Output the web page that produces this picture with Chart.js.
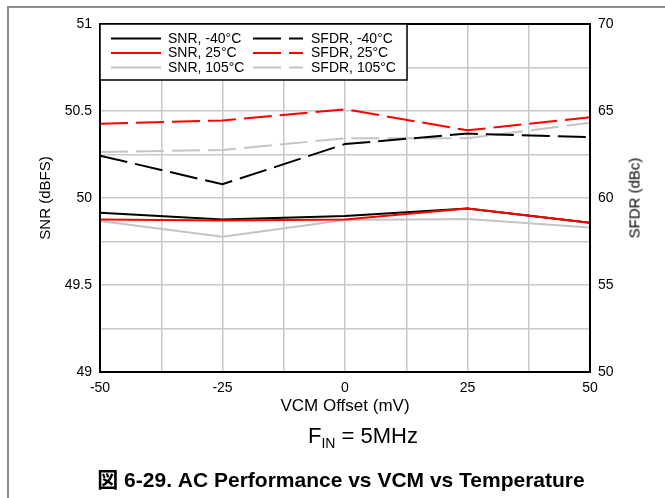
<!DOCTYPE html>
<html>
<head>
<meta charset="utf-8">
<script src="https://cdn.jsdelivr.net/npm/chart.js@4"></script>
<style>
  html, body { margin: 0; padding: 0; background: #fff; }
  body { width: 665px; height: 498px; position: relative; overflow: hidden;
         font-family: 'Liberation Sans', Arial, sans-serif; }
  #frame { position: absolute; left: 7px; top: 6px; right: -5px; bottom: -5px;
           border-left: 2px solid #8c8c8c; border-top: 2px solid #8c8c8c; }
  #wrap { position: absolute; left: 0; top: 0; width: 665px; height: 498px; }
  .txt { position: absolute; color: #000; white-space: nowrap; }
  #rtitle { left: 634px; top: 198px; font-size: 15px;
            transform: translate(-50%, -50%) rotate(-90deg); }
  #fin { left: 363px; top: 437px; font-size: 22px; transform: translate(-50%, -50%); }
  #fin sub { font-size: 14px; vertical-align: -5px; }
  #caption { left: 341px; top: 478px; font-size: 21px; font-weight: bold;
             transform: translate(-50%, -50%);
             font-family: 'Liberation Sans', 'Noto Sans CJK JP', sans-serif; }
</style>
</head>
<body>
<div id="frame"></div>
<div id="wrap"><canvas id="chart" width="665" height="498"></canvas></div>
<div class="txt" id="rtitle">SFDR (dBc)</div>
<div class="txt" id="fin">F<sub>IN</sub> = 5MHz</div>
<div class="txt" id="caption">図 6-29. AC Performance vs VCM vs Temperature</div>
<script>
// VCM offset (mV)
const vcm = [-50, -25, 0, 25, 50];

// SNR (dBFS), left axis
const snrM40 = [49.915, 49.877, 49.897, 49.94, 49.858];
const snr25  = [49.877, 49.870, 49.877, 49.94, 49.858];
const snr105 = [49.868, 49.778, 49.873, 49.879, 49.830];

// SFDR (dBc), right axis
const sfdrM40 = [62.43, 60.79, 63.10, 63.70, 63.50];
const sfdr25  = [64.27, 64.46, 65.10, 63.89, 64.64];
const sfdr105 = [62.64, 62.76, 63.43, 63.43, 64.33];

const FONT = "'Liberation Sans', Arial, sans-serif";
const GRAY = '#c4c4c4';
const DASH = [28, 8];

function pts(arr) {
    return vcm.map((x, i) => ({ x: x, y: arr[i] }));
}

function line(label, arr, color, dashed, axis, order) {
    return {
        label: label,
        data: pts(arr),
        borderColor: color,
        backgroundColor: color,
        borderWidth: 2,
        borderDash: dashed ? DASH : [],
        pointRadius: 0,
        tension: 0,
        yAxisID: axis,
        order: order
    };
}

// legend drawn inside the plot, two columns (SNR | SFDR)
const boxLegend = {
    id: 'boxLegend',
    afterDraw(chart) {
        const ctx = chart.ctx;
        const ds = chart.data.datasets;
        const x0 = 100, y0 = 24, w = 307, h = 56;
        ctx.save();
        ctx.fillStyle = '#fff';
        ctx.fillRect(x0, y0, w, h);
        ctx.strokeStyle = '#000';
        ctx.lineWidth = 1.5;
        ctx.strokeRect(x0, y0, w, h);
        ctx.font = '14px ' + FONT;
        ctx.textBaseline = 'middle';
        const cols = [
            { lx: 111, tx: 168, items: [0, 1, 2] },
            { lx: 253, tx: 311, items: [3, 4, 5] }
        ];
        cols.forEach(c => {
            c.items.forEach((di, r) => {
                const d = ds[di];
                const y = 38.5 + r * 14.5;
                ctx.strokeStyle = d.borderColor;
                ctx.lineWidth = 2;
                ctx.setLineDash(d.borderDash);
                ctx.beginPath();
                ctx.moveTo(c.lx, y);
                ctx.lineTo(c.lx + 50, y);
                ctx.stroke();
                ctx.setLineDash([]);
                ctx.fillStyle = '#000';
                ctx.fillText(d.label, c.tx, y + 0.5);
            });
        });
        ctx.restore();
    }
};

// black frame around the plot area
const plotBorder = {
    id: 'plotBorder',
    afterDatasetsDraw(chart) {
        const a = chart.chartArea;
        const ctx = chart.ctx;
        ctx.save();
        ctx.strokeStyle = '#000';
        ctx.lineWidth = 2;
        ctx.strokeRect(a.left, a.top, a.right - a.left, a.bottom - a.top);
        ctx.restore();
    }
};

new Chart(document.getElementById('chart'), {
    type: 'line',
    data: {
        datasets: [
            line('SNR, -40°C', snrM40, '#000', false, 'y', 2),
            line('SNR, 25°C', snr25, '#ff0000', false, 'y', 1),
            line('SNR, 105°C', snr105, GRAY, false, 'y', 3),
            line('SFDR, -40°C', sfdrM40, '#000', true, 'y1', 2),
            line('SFDR, 25°C', sfdr25, '#ff0000', true, 'y1', 1),
            line('SFDR, 105°C', sfdr105, GRAY, true, 'y1', 3)
        ]
    },
    options: {
        responsive: false,
        animation: false,
        layout: { padding: { top: 24, bottom: 78, left: 0, right: 0 } },
        plugins: {
            legend: { display: false },
            tooltip: { enabled: false }
        },
        scales: {
            x: {
                type: 'linear',
                min: -50,
                max: 50,
                afterFit: s => { s.height = 48; },
                ticks: {
                    stepSize: 12.5,
                    autoSkip: false,
                    maxRotation: 0,
                    padding: 8,
                    color: '#000',
                    font: { family: FONT, size: 14 },
                    callback: v => (v % 25 === 0 ? v : '')
                },
                grid: { color: '#c8c8c8', lineWidth: 1.5, drawTicks: false },
                border: { display: false },
                title: {
                    display: true,
                    text: 'VCM Offset (mV)',
                    color: '#000',
                    font: { family: FONT, size: 17 },
                    padding: { top: 0, bottom: 3 }
                }
            },
            y: {
                position: 'left',
                min: 49,
                max: 51,
                afterFit: s => { s.width = 100; },
                ticks: {
                    stepSize: 0.25,
                    autoSkip: false,
                    padding: 8,
                    color: '#000',
                    font: { family: FONT, size: 14 },
                    callback: v => (v % 0.5 === 0 ? v : '')
                },
                grid: { color: '#c8c8c8', lineWidth: 1.5, drawTicks: false },
                border: { display: false },
                title: {
                    display: true,
                    text: 'SNR (dBFS)',
                    color: '#000',
                    font: { family: FONT, size: 15 },
                    padding: { top: 37, bottom: 0 }
                }
            },
            y1: {
                position: 'right',
                min: 50,
                max: 70,
                afterFit: s => { s.width = 75; },
                ticks: {
                    stepSize: 5,
                    padding: 8,
                    color: '#000',
                    font: { family: FONT, size: 14 }
                },
                grid: { drawOnChartArea: false, drawTicks: false },
                border: { display: false }
            }
        }
    },
    plugins: [plotBorder, boxLegend]
});
</script>
</body>
</html>
